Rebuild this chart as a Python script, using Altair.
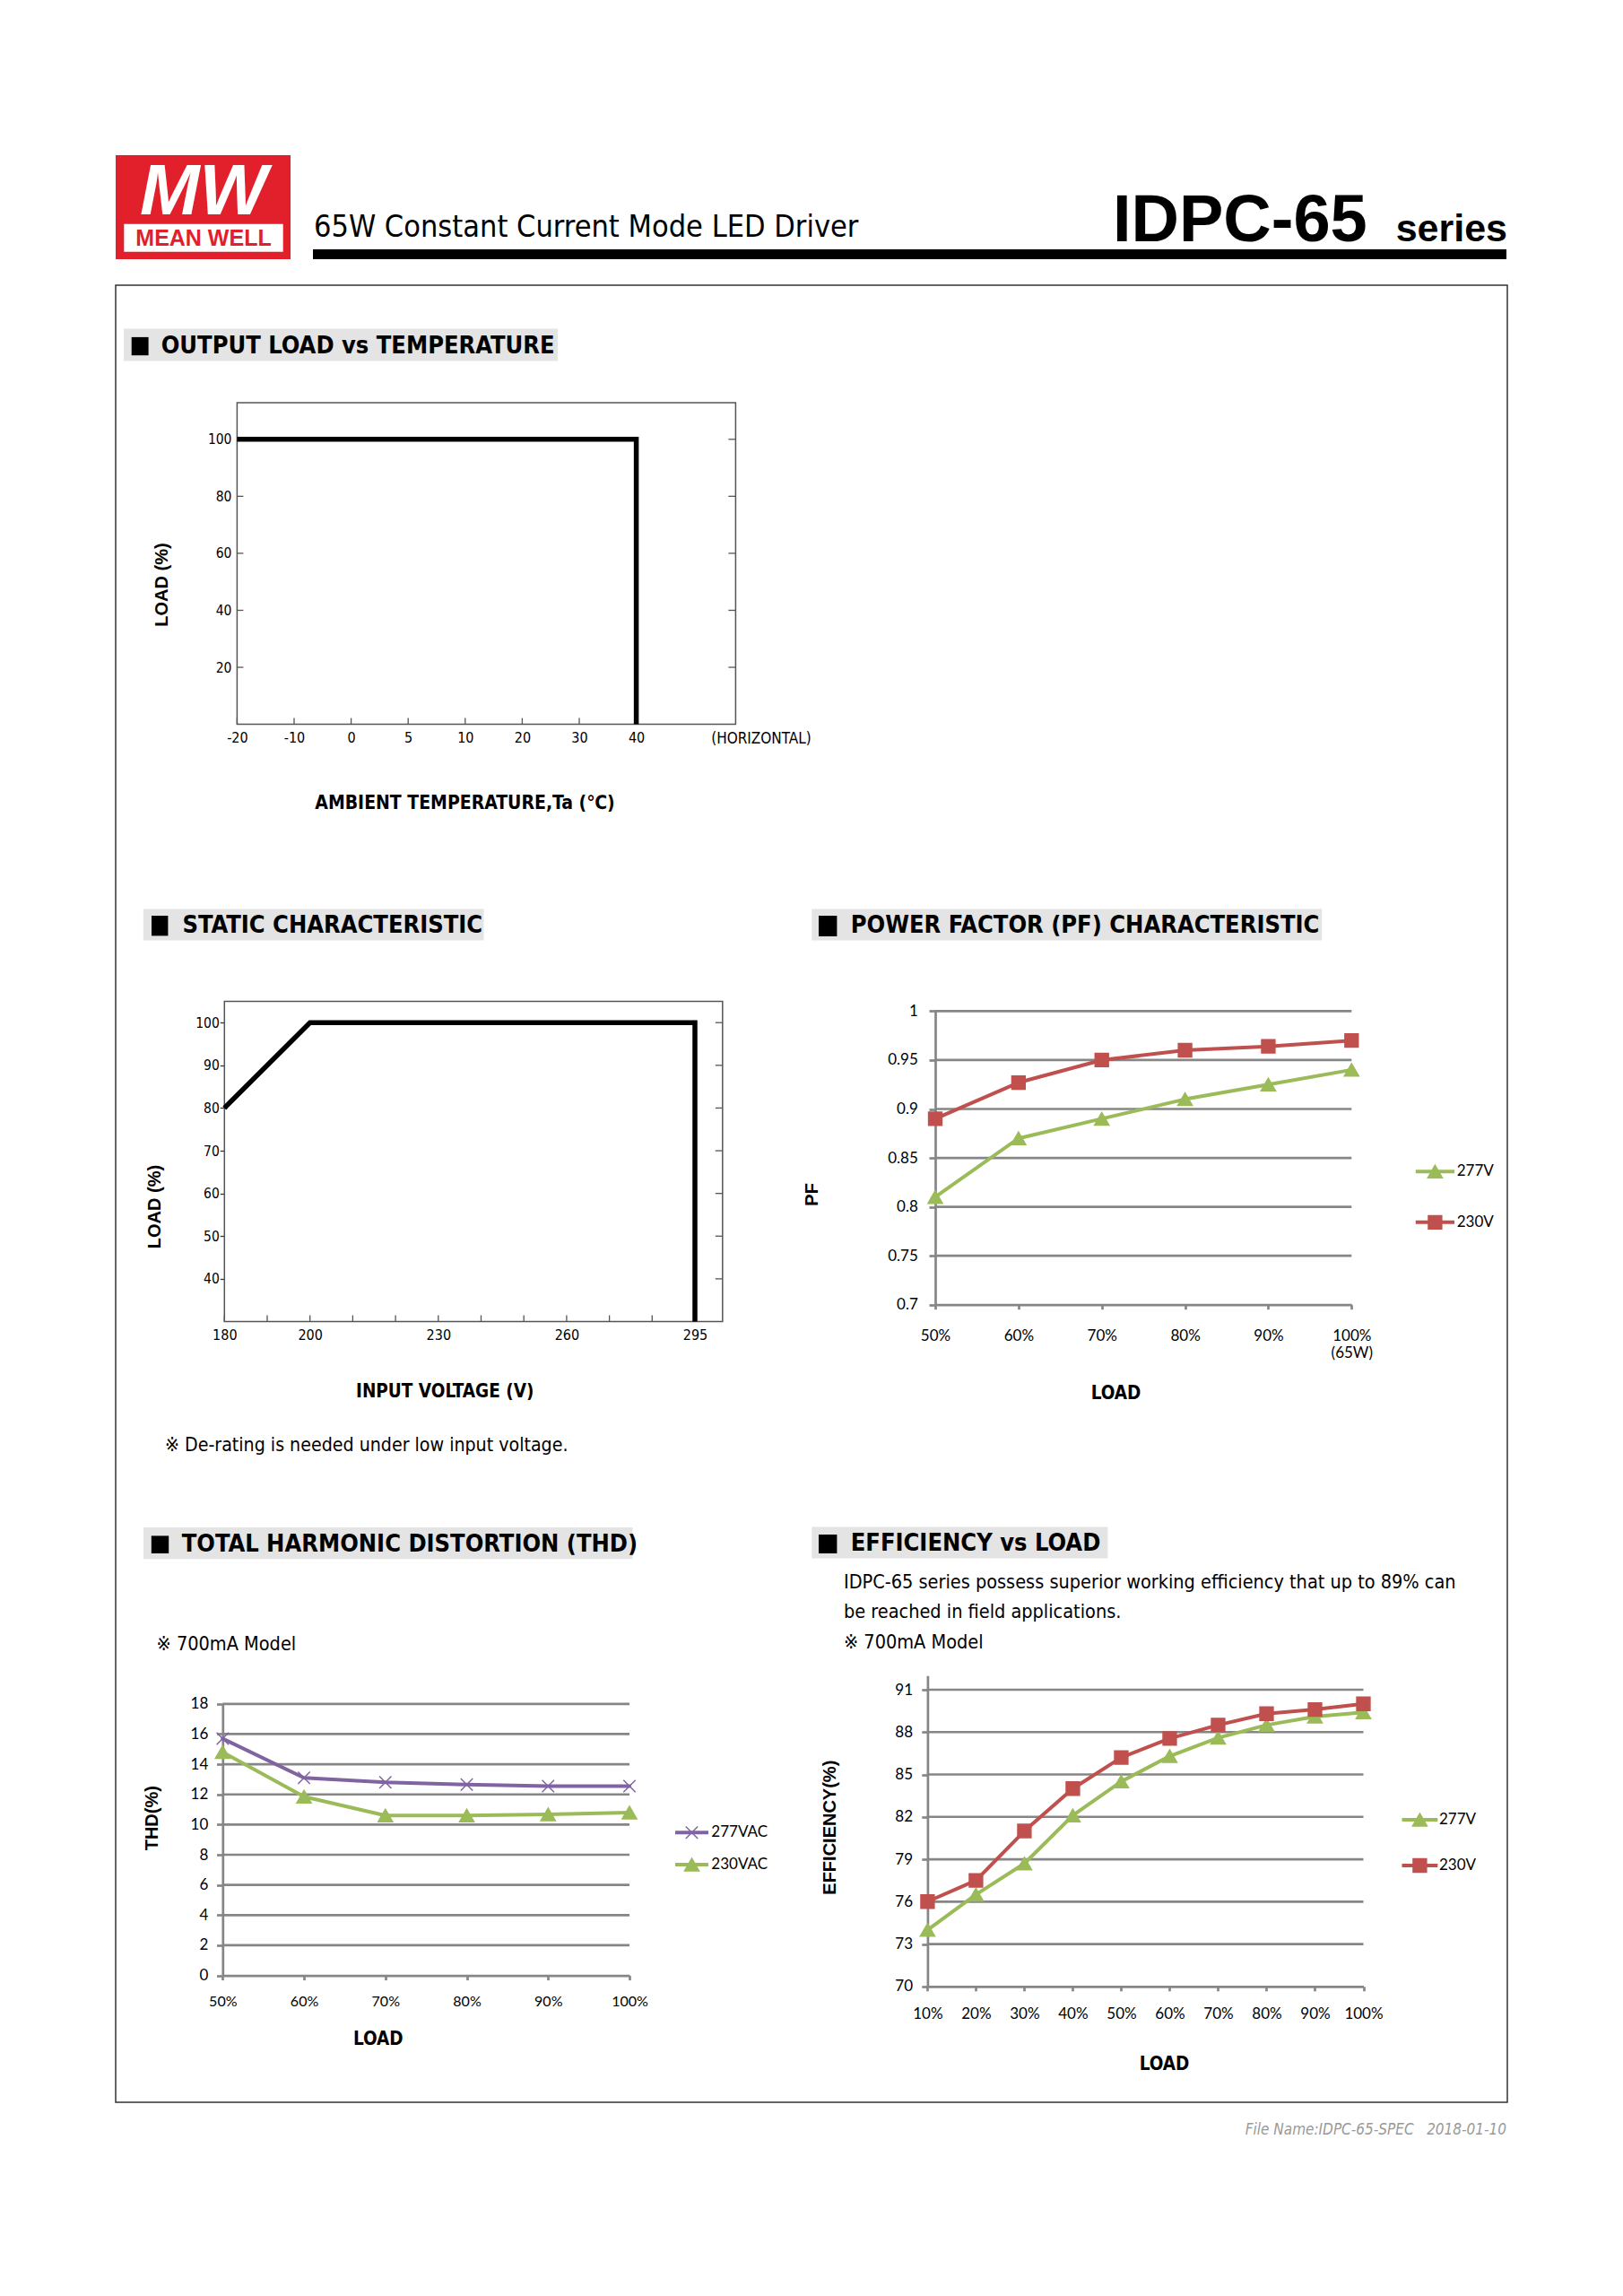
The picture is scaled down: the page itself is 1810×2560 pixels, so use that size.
import altair as alt
import pandas as pd

W, H = 1794, 2544
NARROW = "Liberation Sans Narrow, Arial Narrow, DejaVu Sans Condensed, sans-serif"
ARIAL = "Liberation Sans, Arial, Helvetica, sans-serif"
XLF = "Lato, Carlito, Calibri, sans-serif"
RED, GREEN, PURPLE, GRID = "#C0504D", "#9BBB59", "#8064A2", "#868686"

# ---------------- page text ----------------
LOGO_MARK = "MW"
LOGO_NAME = "MEAN WELL"
SUBTITLE = "65W Constant Current Mode LED Driver"
MODEL = "IDPC-65"
MODEL_SUFFIX = "series"
FOOTER = "File Name:IDPC-65-SPEC\u00a0\u00a0\u00a02018-01-10"

# ---------------- output load vs temperature ----------------
TEMP_TICKS = ["-20", "-10", "0", "5", "10", "20", "30", "40"]
TEMP_CURVE = ["-20", "40", "40"]
TEMP_LOAD = [100, 100, 0]
TEMP_LOAD_TICKS = [20, 40, 60, 80, 100]

# ---------------- static characteristic ----------------
VOLT_LABELS = [180, 200, 230, 260, 295]
VOLT_MINOR = [180, 190, 200, 210, 220, 230, 240, 250, 260, 271.67, 283.33, 295]
VOLT_CURVE = [180, 200, 295, 295]
VOLT_LOAD = [80, 100, 100, 30]
VOLT_LOAD_TICKS = [40, 50, 60, 70, 80, 90, 100]

# ---------------- power factor ----------------
PF_LOADS = ["50%", "60%", "70%", "80%", "90%", "100%"]
PF_FULL_NOTE = "(65W)"
PF_SERIES = ["277V", "230V"]
PF_277V = [0.81, 0.87, 0.89, 0.91, 0.925, 0.94]
PF_230V = [0.89, 0.927, 0.95, 0.96, 0.964, 0.97]
PF_TICKS = [0.7, 0.75, 0.8, 0.85, 0.9, 0.95, 1.0]

# ---------------- THD ----------------
THD_LOADS = ["50%", "60%", "70%", "80%", "90%", "100%"]
THD_SERIES = ["277VAC", "230VAC"]
THD_277VAC = [15.7, 13.1, 12.8, 12.65, 12.55, 12.55]
THD_230VAC = [14.8, 11.85, 10.6, 10.6, 10.67, 10.8]
THD_TICKS = [0, 2, 4, 6, 8, 10, 12, 14, 16, 18]

# ---------------- efficiency ----------------
EFF_LOADS = ["10%", "20%", "30%", "40%", "50%", "60%", "70%", "80%", "90%", "100%"]
EFF_SERIES = ["277V", "230V"]
EFF_277V = [74.0, 76.5, 78.7, 82.1, 84.5, 86.3, 87.6, 88.5, 89.1, 89.4]
EFF_230V = [76.0, 77.5, 81.0, 84.0, 86.2, 87.55, 88.5, 89.3, 89.6, 90.0]
EFF_TICKS = [70, 73, 76, 79, 82, 85, 88, 91]

ONE = alt.Data(values=[{}])


def txt(s, x, y, size, font=NARROW, weight="normal", color="#000000",
        align="left", baseline="middle", style="normal"):
    return alt.Chart(ONE).mark_text(
        text=s, font=font, fontSize=size, fontWeight=weight, color=color,
        align=align, baseline=baseline, fontStyle=style
    ).encode(x=alt.value(x), y=alt.value(y))


def box(x, y, x2, y2, fill=None, stroke=None, sw=1.0):
    if fill is not None:
        m = alt.Chart(ONE).mark_rect(color=fill)
    else:
        m = alt.Chart(ONE).mark_rect(fill="#ffffff", fillOpacity=0, stroke=stroke, strokeWidth=sw)
    return m.encode(x=alt.value(x), x2=alt.value(x2), y=alt.value(y), y2=alt.value(y2))


def section(title, b, sq, tx, size=27):
    bx0, by0, bx1, by1 = b
    sx0, sy0, sx1, sy1 = sq
    return [box(bx0, by0, bx1, by1, fill="#E4E4E4"),
            box(sx0, sy0, sx1, sy1, fill="#000000"),
            txt(title, tx, (by0 + by1) / 2 + 1, size, weight="bold")]


def x_axis(yline, title, tx, ty, lfont, lsize, lpad, tsize=20.5, **kw):
    return alt.Axis(orient="bottom", offset=yline - H, title=title, titleX=tx, titleY=ty - yline,
                    titleFont=NARROW, titleFontSize=tsize, titleFontWeight="bold", titleColor="#000",
                    titleAlign="center", titleBaseline="middle",
                    labelFont=lfont, labelFontSize=lsize, labelPadding=lpad, labelColor="#000",
                    labelAngle=0, labelFlush=False, grid=False, **kw)


def y_axis(xline, title, tx, ty, lfont, lsize, lpad, **kw):
    return alt.Axis(orient="left", offset=-xline, title=title, titleX=tx - xline, titleY=ty,
                    titleFont=ARIAL, titleFontSize=20, titleFontWeight="bold", titleColor="#000",
                    titleAngle=270, titleAlign="center", titleBaseline="middle",
                    labelFont=lfont, labelFontSize=lsize, labelPadding=lpad, labelColor="#000",
                    grid=False, **kw)


L = []

# ---------------- header ----------------
L += [
    box(121, 165, 316, 281, fill="#E2202C"),
    txt(LOGO_MARK, 219, 231, 80, font=ARIAL, weight="bold", color="#ffffff", align="center",
        baseline="alphabetic", style="italic"),
    box(130.3, 241.7, 307.7, 272.7, fill="#ffffff"),
    txt(LOGO_NAME, 219, 258, 25, font=ARIAL, weight="bold", color="#E2202C", align="center"),
    txt(SUBTITLE, 342, 256, 34, baseline="alphabetic"),
    box(341, 270, 1672, 281, fill="#000000"),
    txt(MODEL, 1233, 261, 74, font=ARIAL, weight="bold", baseline="alphabetic"),
    txt(MODEL_SUFFIX, 1673, 261, 43, font=ARIAL, weight="bold", align="right", baseline="alphabetic"),
    box(121, 310, 1673, 2336, stroke="#333333", sw=1.5),
    txt(FOOTER, 1672, 2367, 17, color="#999999", align="right", style="italic"),
]

# ---------------- panel 1: output load vs temperature ----------------
L += section("OUTPUT LOAD vs TEMPERATURE", (130, 358.6, 614, 394.5), (138.7, 367.9, 157.6, 388.2), 171.7)
X1 = alt.Scale(type="point", domain=TEMP_TICKS, range=[256.4, 701.6], padding=0)
Y1 = alt.Scale(domain=[0, 100], range=[799.6, 481.8], nice=False, zero=False)
p1 = pd.DataFrame({"temp": TEMP_CURVE, "load": TEMP_LOAD, "k": list(range(len(TEMP_CURVE)))})
L.append(box(256.4, 441, 812.4, 799.6, stroke="#555555", sw=1.5))
L.append(alt.Chart(pd.DataFrame({"temp": TEMP_TICKS})).mark_rule(color="#555555", strokeWidth=1.3).encode(
    x=alt.X("temp:N", scale=X1, axis=None), y=alt.value(799.6), y2=alt.value(792.6)))
L.append(alt.Chart(pd.DataFrame({"load": TEMP_LOAD_TICKS})).mark_rule(color="#555555", strokeWidth=1.3).encode(
    y=alt.Y("load:Q", scale=Y1, axis=None), x=alt.value(256.4), x2=alt.value(263.4)))
L.append(alt.Chart(pd.DataFrame({"load": TEMP_LOAD_TICKS})).mark_rule(color="#555555", strokeWidth=1.3).encode(
    y=alt.Y("load:Q", scale=Y1, axis=None), x=alt.value(804.4), x2=alt.value(812.4)))
L.append(alt.Chart(p1).mark_line(color="#000000", strokeWidth=5.5, strokeJoin="miter").encode(
    x=alt.X("temp:N", scale=X1,
            axis=x_axis(799.6, "AMBIENT TEMPERATURE,Ta (℃)", 510, 887.7, NARROW, 16, 7, tsize=21,
                        ticks=False, domain=False)),
    y=alt.Y("load:Q", scale=Y1,
            axis=y_axis(256.4, "LOAD (%)", 172.7, 643.5, NARROW, 15.5, 6.4, values=TEMP_LOAD_TICKS,
                        ticks=False, domain=False)),
    order="k:Q"))
L.append(txt("(HORIZONTAL)", 841, 816, 17, align="center"))

# ---------------- panel 2: static characteristic ----------------
L += section("STATIC CHARACTERISTIC", (151.8, 1005.5, 531.5, 1040.4), (161, 1013, 179.4, 1035.4), 195.5)
X2 = alt.Scale(domain=[180, 260, 295], range=[242.3, 623.9, 767.0], nice=False, zero=False)
Y2 = alt.Scale(domain=[30, 100], range=[1465.5, 1132.2], nice=False, zero=False)
p2 = pd.DataFrame({"volt": VOLT_CURVE, "load": VOLT_LOAD, "k": list(range(len(VOLT_CURVE)))})
L.append(box(242.3, 1108.6, 797.8, 1465.5, stroke="#555555", sw=1.5))
L.append(alt.Chart(pd.DataFrame({"volt": VOLT_MINOR})).mark_rule(color="#555555", strokeWidth=1.3).encode(
    x=alt.X("volt:Q", scale=X2, axis=None), y=alt.value(1465.5), y2=alt.value(1458.5)))
L.append(alt.Chart(pd.DataFrame({"load": VOLT_LOAD_TICKS})).mark_rule(color="#555555", strokeWidth=1.3).encode(
    y=alt.Y("load:Q", scale=Y2, axis=None), x=alt.value(789.8), x2=alt.value(797.8)))
L.append(alt.Chart(p2).mark_line(color="#000000", strokeWidth=5.5, strokeJoin="miter").encode(
    x=alt.X("volt:Q", scale=X2,
            axis=x_axis(1465.5, "INPUT VOLTAGE (V)", 487.7, 1543.3, NARROW, 16, 7,
                        values=VOLT_LABELS, format="d", ticks=False, domain=False)),
    y=alt.Y("load:Q", scale=Y2,
            axis=y_axis(242.3, "LOAD (%)", 164, 1337, NARROW, 15.5, 1, values=VOLT_LOAD_TICKS,
                        ticks=True, tickSize=5, tickColor="#333333", tickWidth=1.3, domain=False)),
    order="k:Q"))
L.append(txt("※ De-rating is needed under low input voltage.", 176, 1604.4, 21.2))


# ---------------- excel-style panels ----------------
def excel_panel(loads, series, vals, colors, shapes, x0, x1, ybot, ytop, ydom, yticks, grid_ticks,
                ytick, ylpad, xlpad, xlsize, yfmt, xtitle, ytitle_name, ytitle, leg_ys, leg_x0, leg_x1,
                leg_tx, label_expr=None, sizes=(240, 240)):
    XS = alt.Scale(type="point", domain=loads, range=[x0, x1], padding=0)
    YS = alt.Scale(domain=ydom, range=[ybot, ytop], nice=False, zero=False)
    CS = alt.Scale(domain=series, range=colors)
    SS = alt.Scale(domain=series, range=shapes)
    ZS = alt.Scale(domain=series, range=list(sizes))
    rows = []
    for s, v in zip(series, vals):
        for i, (ld, y) in enumerate(zip(loads, v)):
            rows.append({"load": ld, "series": s, "value": y, "k": i})
    df = pd.DataFrame(rows)
    out = []
    out.append(alt.Chart(pd.DataFrame({"v": grid_ticks})).mark_rule(color=GRID, strokeWidth=2.7).encode(
        y=alt.Y("v:Q", scale=YS, axis=None), x=alt.value(x0), x2=alt.value(x1)))
    xkw = dict(domain=True, domainColor=GRID, domainWidth=2.7, ticks=True, tickColor=GRID,
               tickWidth=2.7, tickSize=5)
    if label_expr:
        xkw["labelExpr"] = label_expr
        xkw["labelLineHeight"] = 19
    xa = x_axis(ybot, "LOAD", xtitle[0], xtitle[1], XLF, xlsize, xlpad, **xkw)
    ya = y_axis(x0, ytitle_name, ytitle[0], ytitle[1], XLF, 17, ylpad, values=yticks, format=yfmt,
                domain=True, domainColor=GRID, domainWidth=2.7, ticks=True, tickColor=GRID,
                tickWidth=2.7, tickSize=ytick)
    out.append(alt.Chart(df).mark_line(strokeWidth=4, strokeJoin="round", strokeCap="round").encode(
        x=alt.X("load:N", scale=XS, axis=xa),
        y=alt.Y("value:Q", scale=YS, axis=ya),
        color=alt.Color("series:N", scale=CS, legend=None),
        order="k:Q"))
    out.append(alt.Chart(df).mark_point(filled=True, opacity=1, strokeWidth=1.5).encode(
        x=alt.X("load:N", scale=XS, axis=None),
        y=alt.Y("value:Q", scale=YS, axis=None),
        color=alt.Color("series:N", scale=CS, legend=None),
        stroke=alt.Stroke("series:N", scale=CS, legend=None),
        shape=alt.Shape("series:N", scale=SS, legend=None),
        size=alt.Size("series:N", scale=ZS, legend=None)))
    lg = pd.DataFrame({"series": series})
    LY = alt.Scale(type="point", domain=series, range=list(leg_ys), padding=0)
    out.append(alt.Chart(lg).mark_rule(strokeWidth=4).encode(
        y=alt.Y("series:N", scale=LY, axis=None), x=alt.value(leg_x0), x2=alt.value(leg_x1),
        color=alt.Color("series:N", scale=CS, legend=None)))
    out.append(alt.Chart(lg).mark_point(filled=True, opacity=1, strokeWidth=1.5).encode(
        y=alt.Y("series:N", scale=LY, axis=None), x=alt.value((leg_x0 + leg_x1) / 2),
        color=alt.Color("series:N", scale=CS, legend=None),
        stroke=alt.Stroke("series:N", scale=CS, legend=None),
        shape=alt.Shape("series:N", scale=SS, legend=None),
        size=alt.Size("series:N", scale=ZS, legend=None)))
    out.append(alt.Chart(lg).mark_text(align="left", baseline="middle", font=XLF, fontSize=17,
                                       color="#000000").encode(
        y=alt.Y("series:N", scale=LY, axis=None), x=alt.value(leg_tx), text="series:N"))
    return out


# PF
L += section("POWER FACTOR (PF) CHARACTERISTIC", (897.3, 1005.4, 1466.2, 1040.6), (905, 1013, 925.4, 1036), 940.7)
pf_expr = (f"datum.value === '{PF_LOADS[-1]}' ? ['{PF_LOADS[-1]}', '{PF_FULL_NOTE}'] : datum.label")
L += excel_panel(PF_LOADS, PF_SERIES, [PF_277V, PF_230V], [GREEN, RED], ["triangle-up", "square"],
                 1035, 1499.3, 1446.7, 1119.4, [0.7, 1.0], PF_TICKS, PF_TICKS[1:],
                 7, 12.7, 22, 17, "~g", (1236, 1545), "PF", (897.3, 1323.4),
                 (1298.2, 1354.8), 1570.8, 1614, 1616.7, label_expr=pf_expr, sizes=(260, 220))

# THD
L += section("TOTAL HARMONIC DISTORTION (THD)", (152, 1695, 697.4, 1730.2), (160.8, 1704.4, 180.2, 1724), 194.7)
L.append(txt("※ 700mA Model", 166.6, 1825.7, 21.5))
L += excel_panel(THD_LOADS, THD_SERIES, [THD_277VAC, THD_230VAC], [PURPLE, GREEN],
                 ["M-1,-1L1,1M-1,1L1,-1", "triangle-up"],
                 240.3, 694, 2194.6, 1891.8, [0, 18], THD_TICKS, THD_TICKS[1:],
                 6.8, 9.7, 16, 16, "d", (413.3, 2265.7), "THD(%)", (161.7, 2018.7),
                 (2035.3, 2071), 745, 782, 785.3, sizes=(180, 260))

# Efficiency
L += section("EFFICIENCY vs LOAD", (897.3, 1694.6, 1227.4, 1729.6), (905, 1703, 925.4, 1724), 940.7)
L.append(txt("IDPC-65 series possess superior working efficiency that up to 89% can", 933, 1757, 21.5))
L.append(txt("be reached in field applications.", 933, 1790, 21.5))
L.append(txt("※ 700mA Model", 933, 1824, 21.5))
L += excel_panel(EFF_LOADS, EFF_SERIES, [EFF_277V, EFF_230V], [GREEN, RED], ["triangle-up", "square"],
                 1026.4, 1512.5, 2206.8, 1860.25, [70, 92], EFF_TICKS, EFF_TICKS[1:],
                 6.6, 10.2, 17.8, 17, "d", (1290, 2293.1), "EFFICIENCY(%)", (917.7, 2029.2),
                 (2021, 2072), 1555.5, 1595.3, 1597, sizes=(260, 220))

chart = alt.layer(*L).resolve_scale(
    x="independent", y="independent", color="independent", stroke="independent",
    shape="independent", size="independent"
).resolve_axis(x="independent", y="independent").properties(
    width=W, height=H, autosize=alt.AutoSizeParams(type="none"), padding=0, background="white"
).configure_view(stroke="transparent")

chart.save("out.html", embed_options={"renderer": "svg", "actions": False})
